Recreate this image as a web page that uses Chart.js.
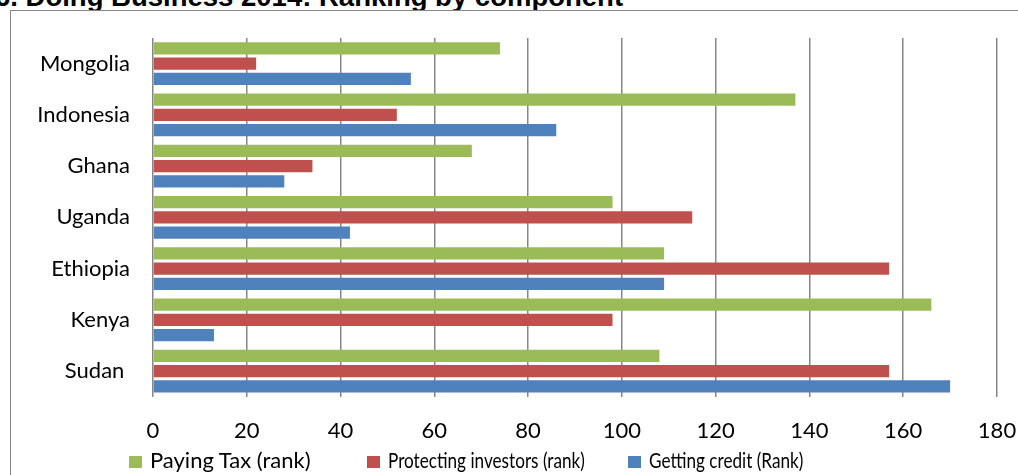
<!DOCTYPE html>
<html>
<head>
<meta charset="utf-8">
<script src="https://cdn.jsdelivr.net/npm/chart.js@4"></script>
<style>
  body { margin: 0; background: #fff; overflow: hidden; }
  #title { position: absolute; left: -5px; top: -17.5px; font: bold 27.5px/28px "Liberation Sans", Arial, sans-serif; white-space: nowrap; color: #000; }
  #frame { position: absolute; left: 10px; top: 10px; width: 1100px; height: 600px; border: 1px solid #868686; background: #fff; }
  #chart { position: absolute; left: 0; top: 0; }
  .legend-item { position: absolute; top: 446px; height: 28px; font: 22px/28px Lato, sans-serif; color: #000; white-space: nowrap; }
  .legend-item .box { position: absolute; left: 0; top: 10px; width: 13px; height: 12px; }
  .legend-item .txt { position: absolute; left: 21px; top: 0; transform-origin: 0 50%; }
</style>
</head>
<body>
<div id="title">6. Doing Business 2014: Ranking by component</div>
<div id="frame"></div>
<canvas id="chart" width="1018" height="475"></canvas>
<div id="legend"></div>
<script>
const countries = ['Mongolia', 'Indonesia', 'Ghana', 'Uganda', 'Ethiopia', 'Kenya', 'Sudan '];
const payingTax = [74, 137, 68, 98, 109, 166, 108];
const protectingInvestors = [22, 52, 34, 115, 157, 98, 157];
const gettingCredit = [55, 86, 28, 42, 109, 13, 170];
const seriesNames = ['Paying Tax (rank)', 'Protecting investors (rank)', 'Getting credit (Rank)'];
const seriesColors = ['#9BBB59', '#C0504D', '#4F81BD'];
const xMin = 0, xMax = 180, xStep = 20;

const fontSize = 22;

let chart = new Chart(document.getElementById('chart'), {
  type: 'bar',
  data: {
    labels: countries,
    datasets: [{
      label: seriesNames[0],
      data: payingTax,
      backgroundColor: seriesColors[0]
    },
    {
      label: seriesNames[1],
      data: protectingInvestors,
      backgroundColor: seriesColors[1]
    },
    {
      label: seriesNames[2],
      data: gettingCredit,
      backgroundColor: seriesColors[2]
    }]
  },
  options: {
    indexAxis: 'y',
    responsive: false,
    animation: false,
    categoryPercentage: 0.897,
    barPercentage: 0.8,
    layout: { padding: { top: 38, right: 21, bottom: 30, left: 0 } },
    scales: {
      x: {
        min: xMin,
        max: xMax,
        grid: { color: '#868686', lineWidth: 1.5, drawTicks: false },
        border: { display: false },
        ticks: { stepSize: xStep, color: '#000', padding: 21, font: { family: 'Lato', size: fontSize } },
        afterFit: function (scale) {
          scale.height = 48.3;
          // tick padding would otherwise eat into the right side
          scale.paddingLeft = 0;
          scale.paddingRight = 0;
        }
      },
      y: {
        grid: { display: false, drawTicks: false },
        border: { display: false },
        ticks: { color: '#000', padding: 23, font: { family: 'Lato', size: fontSize } },
        afterFit: function (scale) { scale.width = 153; }
      }
    },
    plugins: {
      legend: { display: false },
      tooltip: { enabled: false }
    }
  }
});

// legend below the axis, like the original (last two entries are squeezed there)
let legendLeft = [129, 367, 628];
let legendSquash = [1, 0.78, 0.78];
let legendBox = document.getElementById('legend');
chart.data.datasets.forEach(function (ds, i) {
  let item = document.createElement('div');
  item.className = 'legend-item';
  item.style.left = legendLeft[i] + 'px';

  let box = document.createElement('span');
  box.className = 'box';
  box.style.background = ds.backgroundColor;

  let txt = document.createElement('span');
  txt.className = 'txt';
  txt.textContent = ds.label;
  txt.style.transform = 'scaleX(' + legendSquash[i] + ')';

  item.append(box, txt);
  legendBox.append(item);
});
</script>
</body>
</html>
